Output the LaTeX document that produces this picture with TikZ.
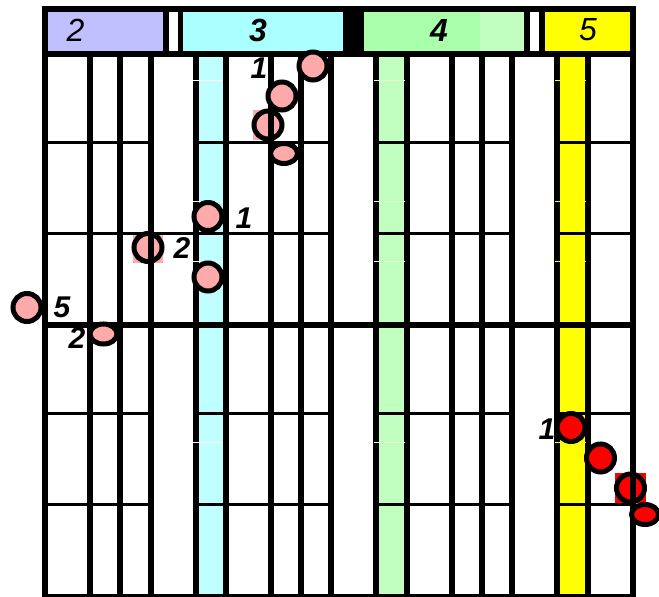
\documentclass[tikz,border=0pt]{standalone}
\usepackage{fontspec}
\setmainfont{Liberation Sans}
\usetikzlibrary{shapes.geometric}
\definecolor{lav}{HTML}{C0C0FF}
\definecolor{cyh}{HTML}{AAFFFF}
\definecolor{cyc}{HTML}{C0FFFF}
\definecolor{grh}{HTML}{AAFFAA}
\definecolor{grc}{HTML}{C0FFC0}
\definecolor{grt}{HTML}{E8FFC8}
\definecolor{yel}{HTML}{FFFF00}
\definecolor{pnk}{HTML}{FFAAAA}
\definecolor{rd}{HTML}{FF0000}
\begin{document}
\begin{tikzpicture}[x=1pt,y=-1pt,
  vline/.style={line width=6.2pt},
  hline/.style={line width=3.2pt},
  tick/.style={line width=1pt},
  dot/.style={circle, draw=black, line width=5pt, minimum size=28pt, inner sep=0pt},
  oval/.style={ellipse, draw=black, line width=5pt, minimum width=27pt, minimum height=20pt, inner sep=0pt},
  lab/.style={font=\fontsize{30}{32}\selectfont\bfseries\itshape, inner sep=0pt},
  hdrb/.style={font=\fontsize{32}{34}\selectfont\bfseries\itshape, inner sep=0pt},
  hdrr/.style={font=\fontsize{32}{34}\selectfont\itshape, inner sep=0pt}]
\useasboundingbox (0,0) rectangle (659,597);
% coloured columns
\fill[cyc] (199,57) rectangle (223,597);
\fill[grc] (379,57) rectangle (404,597);
\fill[yel] (560,57) rectangle (585,597);
% squares and dots under the grid
\fill[pnk] (253,110) rectangle (272,140);
\fill[pnk] (133,232) rectangle (163,263);
\fill[rd] (615,473) rectangle (646,503);
\node[dot, fill=pnk] (c3) at (268,125) {};
\node[dot, fill=pnk] (f2) at (148,247.5) {};
\node[dot, fill=rd] (r3) at (630.5,488) {};
% labels
\node[lab] (l1a) at (259,68) {1};
\node[lab] (l1b) at (244,218) {1};
\node[lab] (l2a) at (182,248) {2};
\node[lab] (l5) at (62,307) {5};
\node[lab] (l2b) at (77,338) {2};
\node[lab] (l1c) at (547,429) {1};
% vertical lines
\foreach \x in {45,90,120,151,196,226,271,301,331,376,407,452,482,512,557,588,633}
  \draw[vline] (\x,57) -- (\x,597);
% horizontal lines
\foreach \y in {142.5,413.5,504.5}{
  \draw[hline] (45,\y) -- (151,\y);
  \draw[hline] (196,\y) -- (331,\y);
  \draw[hline] (376,\y) -- (512,\y);
  \draw[hline] (557,\y) -- (633,\y);
}
\draw[hline] (45,233.5) -- (331,233.5);
\draw[hline] (376,233.5) -- (512,233.5);
\draw[hline] (557,233.5) -- (633,233.5);
\draw[vline] (42,325) -- (636,325);
\draw[hline] (42,595.5) -- (636,595.5);
% header
\fill[black] (42,6) rectangle (636,57);
\fill[lav] (48,12) rectangle (163,51);
\fill[white] (169,12) rectangle (178,51);
\fill[cyh] (183,12) rectangle (343,51);
\fill[grh] (364,12) rectangle (480,51);
\fill[grc] (480,12) rectangle (524,51);
\fill[white] (530,12) rectangle (539,51);
\fill[yel] (545,12) rectangle (630,51);
\node[hdrr] (h2) at (75.5,30) {2};
\node[hdrb] (h3) at (258,30) {3};
\node[hdrb] (h4) at (439,30) {4};
\node[hdrr] (h5) at (588,30) {5};
% small ticks in coloured columns
\foreach \y in {80,201,261,442}{
  \draw[tick, white] (193,\y) -- (223,\y);
  \draw[tick, grt] (374,\y) -- (405,\y);
  \draw[tick, yel] (555,\y) -- (586,\y);
}
% dots above the grid
\node[dot, fill=pnk] (a1) at (313,66) {};
\node[dot, fill=pnk] (b1) at (282,96) {};
\node[oval, fill=pnk] (d1) at (284,153.5) {};
\node[dot, fill=pnk] (e1) at (208,216.5) {};
\node[dot, fill=pnk] (g1) at (208,277) {};
\node[dot, fill=pnk] (h1) at (27,307.5) {};
\node[oval, fill=pnk] (i1) at (103.5,334) {};
\node[dot, fill=rd] (j1) at (571,427.5) {};
\node[dot, fill=rd] (k1) at (600.5,458) {};
\node[oval, fill=rd] (m1) at (645,514.5) {};
\end{tikzpicture}
\end{document}
